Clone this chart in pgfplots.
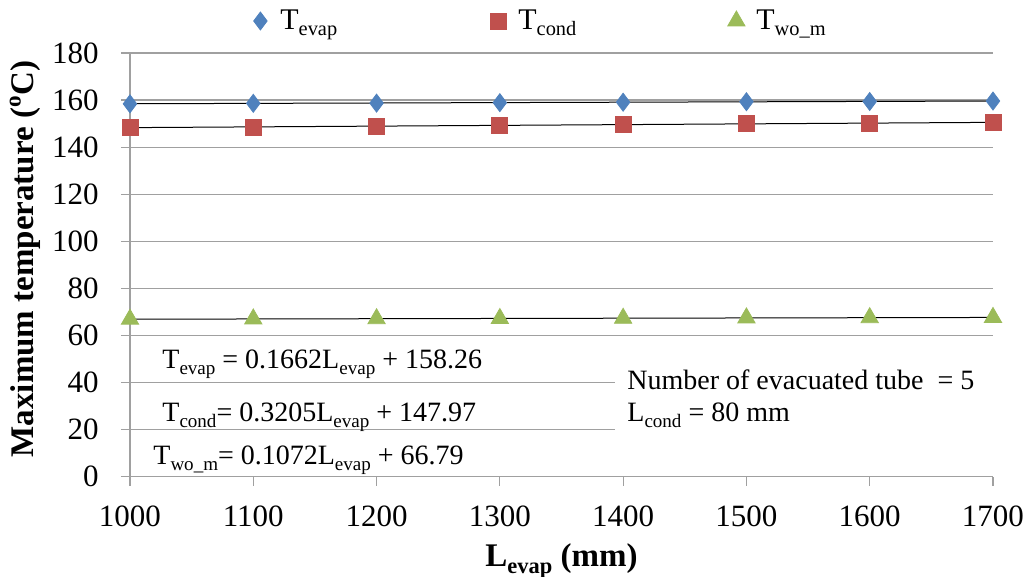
\documentclass[border=0pt]{standalone}
\usepackage{fontspec}
\setmainfont{Liberation Serif}
\usepackage{graphicx}
\usepackage{pgfplots}
\pgfplotsset{compat=1.18}
\definecolor{cblue}{HTML}{4F81BD}
\definecolor{cred}{HTML}{C0504D}
\definecolor{cgreen}{HTML}{9BBB59}
\definecolor{gridc}{HTML}{A0A0A0}
\newcommand{\sub}[1]{\raisebox{-0.2em}{\scalebox{0.68}{#1}}}
\begin{document}
\begin{tikzpicture}
\path[use as bounding box] (-65pt,-50.15pt) rectangle (450pt,238.35pt);
\begin{axis}[
  at={(0pt,0pt)}, anchor=south west,
  scale only axis, width=431.5pt, height=211.85pt,
  xmin=1000, xmax=1700, ymin=0, ymax=180,
  xtick={1000,1100,...,1700}, ytick={0,20,...,180},
  axis x line*=bottom, axis y line*=left,
  axis line style={gridc, line width=0.6pt, -},
  ymajorgrids, grid style={gridc, line width=0.6pt},
  tick style={gridc, line width=0.6pt},
  tick align=outside, major tick length=4.5pt,
  clip=false,
  /pgf/number format/assume math mode=true,
  /pgf/number format/set thousands separator={},
  ticklabel style={font=\fontsize{15.5}{18}\selectfont, inner sep=0pt},
  yticklabel style={xshift=-11pt},
  xticklabel style={yshift=-10pt},
  xlabel={L\sub{evap} (mm)},
  ylabel={Maximum temperature (\textsuperscript{o}C)},
  every axis x label/.style={at={(axis description cs:0.5,0)}, anchor=base, yshift=-45pt, font=\fontsize{16.5}{19}\selectfont\bfseries},
  every axis y label/.style={at={(axis description cs:0,0.5)}, anchor=center, xshift=-52.5pt, yshift=3pt, rotate=90, font=\fontsize{16.5}{19}\selectfont\bfseries},
  legend columns=3,
  legend style={at={(rel axis cs:0,1)}, anchor=west, xshift=55pt, yshift=16pt, draw=none, fill=none, inner sep=0pt, column sep=0pt, font=\fontsize{15}{18}\selectfont, nodes={inner sep=0pt}},
  legend image code/.code={\path[draw=none, fill=none] (-10pt,-1pt) rectangle (10pt,1pt); \draw[mark repeat=2,mark phase=2,#1] plot coordinates {(-10pt,0pt)(0pt,0pt)(10pt,0pt)};},
]
\addplot[only marks, mark=diamond*, mark size=4.5pt, color=cblue, mark options={draw=cblue, fill=cblue}] coordinates {
(1000,158.4) (1100,158.6) (1200,158.7) (1300,158.9) (1400,159.1) (1500,159.3) (1600,159.4) (1700,159.6)};
\addlegendentry{\makebox[99pt][l]{T\sub{evap}}}
\addplot[only marks, mark=square*, mark size=4pt, color=cred, mark options={draw=cred, fill=cred}] coordinates {
(1000,148.3) (1100,148.5) (1200,148.9) (1300,149.2) (1400,149.6) (1500,149.9) (1600,150.2) (1700,150.6)};
\addlegendentry{\makebox[99pt][l]{T\sub{cond}}}
\addplot[only marks, mark=triangle*, mark size=5pt, color=cgreen, mark options={draw=cgreen, fill=cgreen}] coordinates {
(1000,66.9) (1100,67.0) (1200,67.1) (1300,67.2) (1400,67.3) (1500,67.45) (1600,67.55) (1700,67.65)};
\addlegendentry{T\sub{wo\_m}}
\addplot[black, line width=0.5pt, forget plot] coordinates {(1000,158.43) (1700,159.59)};
\addplot[black, line width=0.5pt, forget plot] coordinates {(1000,148.29) (1700,150.53)};
\addplot[black, line width=0.5pt, forget plot] coordinates {(1000,66.90) (1700,67.65)};
\end{axis}
\fill[white] (242.5pt,18.35pt) rectangle (435pt,65.85pt);
\begin{scope}[every node/.style={anchor=base west, inner sep=0pt, font=\fontsize{14}{16}\selectfont}]
\node at (248.5pt,43.35pt) {Number of evacuated tube\ \ = 5};
\node at (248.5pt,27.35pt) {L\sub{cond} = 80 mm};
\node at (16pt,53.85pt) {T\sub{evap} = 0.1662L\sub{evap} + 158.26};
\node at (16pt,27.35pt) {T\sub{cond}= 0.3205L\sub{evap} + 147.97};
\node at (11.5pt,5.85pt) {T\sub{wo\_m}= 0.1072L\sub{evap} + 66.79};
\end{scope}
\end{tikzpicture}
\end{document}
